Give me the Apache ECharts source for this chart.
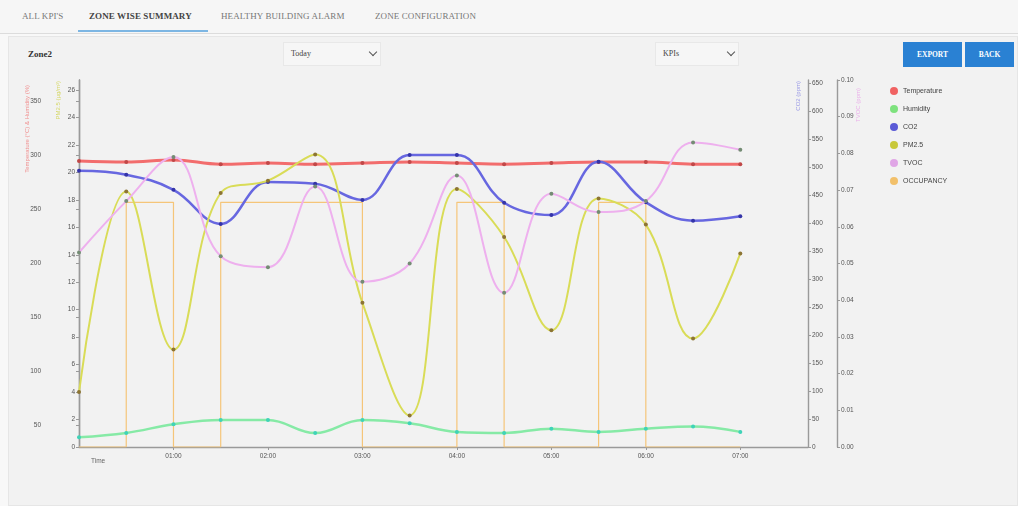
<!DOCTYPE html>
<html>
<head>
<meta charset="utf-8">
<script src="https://cdn.jsdelivr.net/npm/echarts@6/dist/echarts.min.js"></script>
<style>
  html, body { margin:0; padding:0; width:1018px; height:506px; overflow:hidden; background:#f8f8f8; font-family:"Liberation Serif", "DejaVu Serif", serif; }
  .tabs { position:absolute; left:0; top:0; width:1018px; height:33px; background:#f6f6f6; border-bottom:1px solid #dcdcdc; }
  .tab { position:absolute; top:11px; font-size:9px; color:#777; letter-spacing:0.1px; }
  .tab.active { color:#444; font-weight:bold; }
  .uline { position:absolute; left:78px; top:30px; width:130px; height:2px; background:#7db6e3; }
  .panel { position:absolute; left:8px; top:36px; width:1008px; height:468px; background:#f2f2f2; border:1px solid #e6e6e6; }
  .zone { position:absolute; left:28px; top:49px; font-size:9px; font-weight:bold; color:#333; }
  .sel { position:absolute; top:42px; height:24px; background:#f6f6f6; border:1px solid #e8e8e8; box-sizing:border-box; font-size:8px; color:#444; }
  .sel span { position:absolute; left:7px; top:6px; }
  .sel i { position:absolute; top:6px; width:5px; height:5px; border-right:1.6px solid #555; border-bottom:1.6px solid #555; transform:rotate(45deg); }
  .btn { position:absolute; top:42px; height:25px; background:#2a81d3; color:#fff; font-size:7.5px; font-weight:bold; text-align:center; line-height:25px; }
  #chart { position:absolute; left:0; top:0; width:1018px; height:506px; }
</style>
</head>
<body>
<div class="tabs">
  <div class="tab" style="left:22px">ALL KPI'S</div>
  <div class="tab active" style="left:89px">ZONE WISE SUMMARY</div>
  <div class="tab" style="left:221px">HEALTHY BUILDING ALARM</div>
  <div class="tab" style="left:375px">ZONE CONFIGURATION</div>
  <div class="uline"></div>
</div>
<div class="panel"></div>
<div class="zone">Zone2</div>
<div class="sel" style="left:283px;width:98px"><span>Today</span><i style="left:86px"></i></div>
<div class="sel" style="left:655px;width:84px"><span>KPIs</span><i style="left:72px"></i></div>
<div class="btn" style="left:903px;width:59px">EXPORT</div>
<div class="btn" style="left:965px;width:49px">BACK</div>
<div id="chart"></div>
<script>
// ---- data ----
const timeMinutes = [0, 30, 60, 90, 120, 150, 180, 210, 240, 270, 300, 330, 360, 390, 420];
const temperature = [295, 294, 296, 292, 293, 292, 293, 294, 293, 292, 293, 294, 294, 292, 292];
const humidity    = [39, 43, 51, 55, 55, 43, 55, 52, 44, 43, 47, 44, 47, 49, 44];
const co2         = [493, 486, 459, 398, 473, 470, 441, 521, 521, 436, 414, 509, 437, 404, 412];
const pm25        = [4.0, 18.6, 7.1, 18.5, 19.4, 21.3, 10.5, 2.3, 18.8, 15.3, 8.5, 18.1, 16.2, 7.9, 14.1];
const tvoc        = [0.053, 0.067, 0.079, 0.052, 0.049, 0.071, 0.045, 0.050, 0.074, 0.042, 0.069, 0.064, 0.067, 0.083, 0.081];
const occupancy   = [0, 1, 0, 1, 1, 1, 0, 0, 1, 0, 0, 1, 0, 0, 0];

const xTickMinutes = [60, 120, 180, 240, 300, 360, 420];
const xTickLabels  = ['01:00', '02:00', '03:00', '04:00', '05:00', '06:00', '07:00'];
const tempAxisLabels = [50, 100, 150, 200, 250, 300, 350];
const pmAxisLabels   = [0, 2, 4, 6, 8, 10, 12, 14, 16, 18, 20, 22, 24, 26];
const co2AxisLabels  = [0, 50, 100, 150, 200, 250, 300, 350, 400, 450, 500, 550, 600, 650];
const tvocAxisLabels = [0, 0.01, 0.02, 0.03, 0.04, 0.05, 0.06, 0.07, 0.08, 0.09, 0.10];

const seriesNames = ['Temperature', 'Humidity', 'CO2', 'PM2.5', 'TVOC', 'OCCUPANCY'];
const axisTitles = ['Temperature (°C) & Humidity (%)', 'PM2.5 (µg/m³)', 'CO2 (ppm)', 'TVOC (ppm)'];

// ---- chart ----
const pair = arr => arr.map((v, i) => [timeMinutes[i], v]);
const lblStyle = { fontSize: 6.5, color: '#555', fontFamily: 'Liberation Sans, Arial, sans-serif' };
const axLine = { show: true, lineStyle: { color: '#9a9a9a', width: 1.4 } };
const tick = { show: true, length: 3, lineStyle: { color: '#9a9a9a' } };

function yAx(pos, offset, min, max, labels, fmt, extraTicks) {
  return {
    type: 'value', position: pos, offset: offset, min: min, max: max,
    axisLine: axLine,
    axisTick: Object.assign({}, tick, { customValues: (extraTicks || []).concat(labels) }),
    axisLabel: Object.assign({}, lblStyle, { margin: 4, customValues: labels, formatter: fmt || (v => String(v)) }),
    splitLine: { show: false }
  };
}

const chart = echarts.init(document.getElementById('chart'), null, { renderer: 'canvas' });
const colors = ['#f26d6d', '#86eaa6', '#6767e0', '#d9dc57', '#eeb0ee', '#f5c579'];
const dotColors = ['#c04848', '#3fd3b8', '#3434a8', '#8c7434', '#748c74', '#f5c579'];
const legendColors = ['#f06262', '#7ee27e', '#5a5ad6', '#c8c83a', '#e0a6e6', '#f2c06a'];

function lineSeries(idx, data, yIndex, width, extra) {
  return Object.assign({
    name: seriesNames[idx], type: 'line', yAxisIndex: yIndex, data: pair(data),
    smooth: 0.4, symbol: 'circle', symbolSize: 4, showSymbol: true,
    lineStyle: { color: colors[idx], width: width },
    itemStyle: { color: dotColors[idx] },
    z: 2 + idx
  }, extra || {});
}

chart.setOption({
  animation: false,
  backgroundColor: 'transparent',
  textStyle: { fontFamily: 'Liberation Sans, Arial, sans-serif' },
  grid: { left: 79, right: 210, top: 80, bottom: 59, containLabel: false },
  legend: {
    orient: 'vertical', left: 885, top: 82, itemWidth: 8, itemHeight: 8, itemGap: 10, itemTextGap: 9,
    icon: 'circle',
    data: seriesNames.map((n, i) => ({ name: n, itemStyle: { color: legendColors[i] } })),
    textStyle: { fontSize: 7, color: '#444', lineHeight: 8 }
  },
  xAxis: {
    type: 'value', min: 0, max: 463,
    axisLine: axLine,
    axisTick: Object.assign({}, tick, { customValues: xTickMinutes }),
    axisLabel: Object.assign({}, lblStyle, { margin: 6, customValues: xTickMinutes,
      formatter: v => { const k = xTickMinutes.indexOf(v); return k >= 0 ? xTickLabels[k] : ''; } }),
    splitLine: { show: false }
  },
  yAxis: [
    yAx('left', 34, 30, 370, tempAxisLabels, null, [30]),
    yAx('left', 0, 0, 26.73, pmAxisLabels),
    yAx('right', 0, 0, 655, co2AxisLabels),
    yAx('right', 29, 0, 0.10, tvocAxisLabels, v => v.toFixed(2)),
    { type: 'value', show: false, min: 0, max: 1.5 }
  ],
  graphic: [
    { type: 'text', x: 27, y: 85, rotation: Math.PI / 2, style: { text: axisTitles[0], fill: '#f09090', fontSize: 6, align: 'right', verticalAlign: 'middle' } },
    { type: 'text', x: 58, y: 81, rotation: Math.PI / 2, style: { text: axisTitles[1], fill: '#d6d86a', fontSize: 6, align: 'right', verticalAlign: 'middle' } },
    { type: 'text', x: 798, y: 81, rotation: Math.PI / 2, style: { text: axisTitles[2], fill: '#9a9ae6', fontSize: 6, align: 'right', verticalAlign: 'middle' } },
    { type: 'text', x: 858, y: 88, rotation: Math.PI / 2, style: { text: axisTitles[3], fill: '#eab0ea', fontSize: 6, align: 'right', verticalAlign: 'middle' } },
    { type: 'text', x: 91, y: 458, style: { text: 'Time', fill: '#666', fontSize: 6.5 } }
  ],
  series: [
    lineSeries(5, occupancy, 4, 1.2, { step: 'end', smooth: false, showSymbol: false, z: 1 }),
    lineSeries(4, tvoc, 3, 2),
    lineSeries(3, pm25, 1, 2),
    lineSeries(1, humidity, 0, 2.5),
    lineSeries(2, co2, 2, 2.5),
    lineSeries(0, temperature, 0, 3)
  ]
});
</script>
</body>
</html>
